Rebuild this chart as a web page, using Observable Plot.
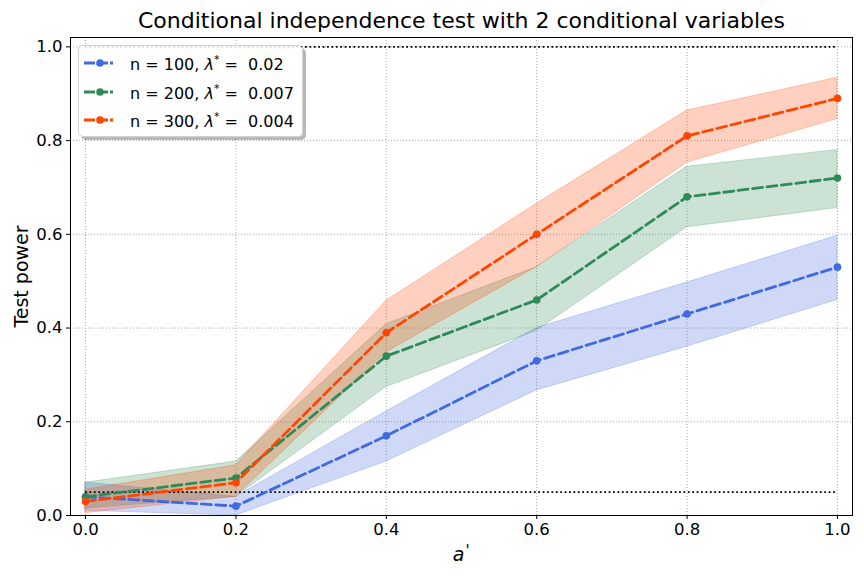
<!DOCTYPE html>
<html><head><meta charset="utf-8">
<script src="https://cdn.jsdelivr.net/npm/d3@7"></script>
<script src="https://cdn.jsdelivr.net/npm/@observablehq/plot@0.6"></script>
<style>
body{margin:0;background:#fff;font-family:"DejaVu Sans",sans-serif;}
#wrap{position:relative;width:864px;height:576px;}
#legend{position:absolute;left:78px;top:45px;width:225px;height:92px;box-sizing:border-box;border:1px solid #d3d3d3;border-radius:5px;background:rgba(255,255,255,0.85);box-shadow:3px 3px 0 rgba(0,0,0,0.28);}
.row{position:absolute;left:0;height:22px;display:flex;align-items:center;font-size:16px;white-space:pre;color:#000;}
.row svg{margin-left:5px;margin-right:17px;}
sup{font-size:11px;vertical-align:7px;}
</style></head><body>
<div id="wrap"><div id="legend"></div></div>
<script>
const aValues = [0, 0.2, 0.4, 0.6, 0.8, 1.0];
const yTicks = [0, 0.2, 0.4, 0.6, 0.8, 1.0];
const seriesNames = ["n = 100", "n = 200", "n = 300"];
const lambdaLabels = ["0.02", "0.007", "0.004"];
const colors = ["#4169e1", "#2e8b57", "#ff4500"];
const refLevels = [0.05, 1.0];

const power100 = [0.04, 0.02, 0.17, 0.33, 0.43, 0.53];
const lower100 = [0.01, 0.0, 0.115, 0.267, 0.36, 0.46];
const upper100 = [0.07, 0.04, 0.222, 0.40, 0.497, 0.597];

const power200 = [0.04, 0.08, 0.34, 0.46, 0.68, 0.72];
const lower200 = [0.015, 0.04, 0.274, 0.394, 0.615, 0.656];
const upper200 = [0.07, 0.115, 0.408, 0.53, 0.744, 0.78];

const power300 = [0.03, 0.07, 0.39, 0.60, 0.81, 0.89];
const lower300 = [0.005, 0.04, 0.348, 0.53, 0.753, 0.846];
const upper300 = [0.055, 0.107, 0.458, 0.665, 0.864, 0.934];

const titleText = "Conditional independence test with 2 conditional variables";
const yLabel = "Test power";
const xLabelVar = "a";
const xLabelPrime = "'";

const powers = [power100, power200, power300];
const lowers = [lower100, lower200, lower300];
const uppers = [upper100, upper200, upper300];

const seriesData = seriesNames.map((name, i) =>
  aValues.map((a, j) => ({a, p: powers[i][j], lo: lowers[i][j], hi: uppers[i][j], series: name}))
);

const bandMarks = seriesData.map((d, i) =>
  Plot.areaY(d, {x: "a", y1: "lo", y2: "hi", fill: colors[i], fillOpacity: 0.25,
    stroke: colors[i], strokeOpacity: 0.25, strokeWidth: 1})
);
const lineMarks = seriesData.flatMap((d, i) => [
  Plot.line(d, {x: "a", y: "p", stroke: colors[i], strokeWidth: 2.8, strokeDasharray: "10,4.5"}),
  Plot.dot(d, {x: "a", y: "p", r: 3.8, fill: colors[i], stroke: "none"})
]);

const gridStyle = {stroke: "#aaaaaa", strokeOpacity: 1, strokeWidth: 1, strokeDasharray: "1,2"};

const chart = Plot.plot({
  width: 864, height: 576,
  marginTop: 37, marginBottom: 61, marginLeft: 70, marginRight: 12,
  style: {fontFamily: '"DejaVu Sans", sans-serif', fontSize: "16px", color: "#000", background: "#fff"},
  x: {domain: [-0.02, 1.02]},
  y: {domain: [0, 1.02]},
  marks: [
    Plot.gridX(aValues, gridStyle),
    Plot.gridY(yTicks, gridStyle),
    ...bandMarks,
    Plot.ruleY(refLevels, {x1: 0, x2: 1, stroke: "#000", strokeWidth: 1.8, strokeDasharray: "1.8,2.6"}),
    ...lineMarks,
    Plot.frame({stroke: "#000", strokeWidth: 1}),
    Plot.axisX(aValues, {tickFormat: d3.format(".1f"), tickSize: 4, tickPadding: 4, fontSize: 16.5, label: null}),
    Plot.axisY(yTicks, {tickFormat: d3.format(".1f"), tickSize: 4, tickPadding: 4, fontSize: 16.5, label: null}),
    Plot.text([titleText], {text: d => d, frameAnchor: "top", dy: -17, lineAnchor: "middle", fontSize: 22}),
    Plot.text([yLabel], {text: d => d, frameAnchor: "left", dx: -49, rotate: -90, textAnchor: "middle", lineAnchor: "middle", fontSize: 19}),
    Plot.text([xLabelVar], {text: d => d, frameAnchor: "bottom", dx: -3, dy: 39, lineAnchor: "middle", fontSize: 19, fontStyle: "italic"}),
    Plot.text([xLabelPrime], {text: d => d, frameAnchor: "bottom", dx: 6, dy: 36, lineAnchor: "middle", fontSize: 15})
  ]
});
document.getElementById("wrap").prepend(chart);

const legend = document.getElementById("legend");
const rowTops = [17, 46, 74];
seriesNames.forEach((name, i) => {
  const row = document.createElement("div");
  row.className = "row";
  row.style.top = (rowTops[i] - 11) + "px";
  row.innerHTML = `<svg width="29" height="10"><line x1="0" y1="5" x2="29" y2="5" stroke="${colors[i]}" stroke-width="2.8" stroke-dasharray="11,2"/><circle cx="16" cy="5" r="3.8" fill="${colors[i]}"/></svg><span>${name}, <i>λ</i><sup>*</sup> =  ${lambdaLabels[i]}</span>`;
  legend.appendChild(row);
});
</script>
</body></html>
